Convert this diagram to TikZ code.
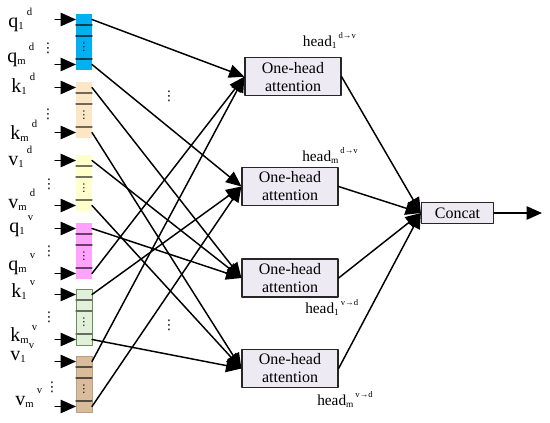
\documentclass[tikz,border=0pt]{standalone}
\usepackage{fontspec}
\setmainfont{Liberation Serif}
\newfontfamily\dotfont{DejaVu Sans}
\usepackage{tikz}
\usetikzlibrary{arrows.meta,positioning}
\definecolor{qdc}{HTML}{00B0F0}
\definecolor{kdc}{HTML}{FBE7C6}
\definecolor{vdc}{HTML}{FFFFCC}
\definecolor{qvc}{HTML}{FFA3FF}
\definecolor{kvc}{HTML}{E2F0D9}
\definecolor{vvc}{HTML}{D8BC9C}
\definecolor{boxfill}{HTML}{EDEAF3}
\newcommand{\vlab}[3]{#1\raisebox{-0.25ex}{\fontsize{8}{8}\selectfont #2}\hspace{2.5pt}\raisebox{1.2ex}{\fontsize{8}{8}\selectfont #3}}
\newcommand{\hlab}[2]{head\raisebox{-0.35ex}{\fontsize{7}{7}\selectfont #1}\hspace{1.5pt}\raisebox{1.1ex}{\fontsize{6.5}{6.5}\selectfont #2}}
\tikzset{
  cell/.style={rectangle, minimum width=12pt, minimum height=8.25pt, inner sep=0pt, outer sep=0pt},
  gapcell/.style={cell, minimum height=17.25pt, font=\dotfont\fontsize{8}{8}\selectfont},
  att/.style={rectangle, draw=black!85, fill=boxfill, line width=0.9pt, minimum width=72pt, minimum height=28.5pt, inner sep=1pt, align=center, font=\fontsize{12}{13.5}\selectfont},
  catbox/.style={att, minimum width=54pt, minimum height=15.75pt},
  lab/.style={anchor=base west, inner sep=0pt, font=\fontsize{15}{15}\selectfont},
  headlab/.style={anchor=base west, inner sep=0pt, font=\fontsize{11.5}{12}\selectfont},
  dots/.style={inner sep=0pt, font=\dotfont\fontsize{10}{10}\selectfont},
  link/.style={-{Triangle[length=11.5pt,width=10pt]}, line width=1.1pt},
  divline/.style={line width=1pt},
  every picture/.style={line cap=round, line join=round}
}

\begin{document}
\begin{tikzpicture}[x=0.75pt,y=-0.75pt]
  \useasboundingbox (0,0) rectangle (550,422);

  % Vector blocks
  \node[cell, fill=qdc] (qd1) at (84,19.5) {};
  \node[cell, fill=qdc] (qd2) at (84,30.5) {};
  \node[gapcell, fill=qdc] (qde) at (84,47.5) {⋮};
  \node[cell, fill=qdc] (qdm) at (84,64.5) {};

  \node[cell, fill=kdc] (kd1) at (84,87.5) {};
  \node[cell, fill=kdc] (kd2) at (84,98.5) {};
  \node[gapcell, fill=kdc] (kde) at (84,115.5) {⋮};
  \node[cell, fill=kdc] (kdm) at (84,132.5) {};

  \node[cell, fill=vdc] (vd1) at (84,160.5) {};
  \node[cell, fill=vdc] (vd2) at (84,171.5) {};
  \node[gapcell, fill=vdc] (vde) at (84,188.5) {⋮};
  \node[cell, fill=vdc] (vdm) at (84,205.5) {};

  \node[cell, fill=qvc] (qv1) at (84,228.5) {};
  \node[cell, fill=qvc] (qv2) at (84,239.5) {};
  \node[gapcell, fill=qvc] (qve) at (84,256.5) {⋮};
  \node[cell, fill=qvc] (qvm) at (84,273.5) {};

  \node[cell, fill=kvc] (kv1) at (84,294.5) {};
  \node[cell, fill=kvc] (kv2) at (84,305.5) {};
  \node[gapcell, fill=kvc] (kve) at (84,322.5) {⋮};
  \node[cell, fill=kvc] (kvm) at (84,339.5) {};

  \node[cell, fill=vvc] (vv1) at (84,361.5) {};
  \node[cell, fill=vvc] (vv2) at (84,372.5) {};
  \node[gapcell, fill=vvc] (vve) at (84,389.5) {⋮};
  \node[cell, fill=vvc] (vvm) at (84,406.5) {};

  % Frames and dividers
  \draw[line width=0.6pt, kvc!70!green!60!black] (kv1.north west) rectangle (kvm.south east);
  \draw[line width=0.6pt, vvc!85!black] (vv1.north west) rectangle (vvm.south east);
  \draw[divline, qdc!35!black] (qd1.south west) -- (qd1.south east) (qd2.south west) -- (qd2.south east) (qde.south west) -- (qde.south east);
  \draw[divline, kdc!45!black] (kd1.south west) -- (kd1.south east) (kd2.south west) -- (kd2.south east) (kde.south west) -- (kde.south east);
  \draw[divline, vdc!45!black] (vd1.south west) -- (vd1.south east) (vd2.south west) -- (vd2.south east) (vde.south west) -- (vde.south east);
  \draw[divline, qvc!40!black] (qv1.south west) -- (qv1.south east) (qv2.south west) -- (qv2.south east) (qve.south west) -- (qve.south east);
  \draw[divline, kvc!45!black] (kv1.south west) -- (kv1.south east) (kv2.south west) -- (kv2.south east) (kve.south west) -- (kve.south east);
  \draw[divline, vvc!40!black] (vv1.south west) -- (vv1.south east) (vv2.south west) -- (vv2.south east) (vve.south west) -- (vve.south east);

  % Input labels
  \node[lab] (lqd1) at (8,27) {\vlab{q}{1}{d}};
  \node[lab] (lqdm) at (7,62) {\vlab{q}{m}{d}};
  \node[lab] (lkd1) at (11,92) {\vlab{k}{1}{d}};
  \node[lab] (lkdm) at (10,139) {\vlab{k}{m}{d}};
  \node[lab] (lvd1) at (8,165) {\vlab{v}{1}{d}};
  \node[lab] (lvdm) at (8,208) {\vlab{v}{m}{d}};
  \node[lab] (lqv1) at (9,232) {\vlab{q}{1}{v}};
  \node[lab] (lqvm) at (8,270) {\vlab{q}{m}{v}};
  \node[lab] (lkv1) at (11,297) {\vlab{k}{1}{v}};
  \node[lab] (lkvm) at (10,341.5) {\vlab{k}{m}{v}};
  \node[lab] (lvv1) at (10,360) {\vlab{v}{1}{v}};
  \node[lab] (lvvm) at (15,405) {\vlab{v}{m}{v}};

  \node[dots] (dqd) at (48,48) {⋮};
  \node[dots] (dkd) at (48,114) {⋮};
  \node[dots] (dvd) at (49,184) {⋮};
  \node[dots] (dqv) at (49,251) {⋮};
  \node[dots] (dkv) at (49,317) {⋮};
  \node[dots] (dvv) at (52,387) {⋮};

  % Input arrows
  \coordinate (iqd1) at (55,19.5);
  \coordinate (iqdm) at (55,64.5);
  \coordinate (ikd1) at (55,87.5);
  \coordinate (ikdm) at (55,132.5);
  \coordinate (ivd1) at (55,160.5);
  \coordinate (ivdm) at (55,205.5);
  \coordinate (iqv1) at (55,228.5);
  \coordinate (iqvm) at (55,273.5);
  \coordinate (ikv1) at (55,294.5);
  \coordinate (ikvm) at (55,339.5);
  \coordinate (ivv1) at (55,361.5);
  \coordinate (ivvm) at (55,406.5);
  \draw[link] (iqd1) -- (qd1);
  \draw[link] (iqdm) -- (qdm);
  \draw[link] (ikd1) -- (kd1);
  \draw[link] (ikdm) -- (kdm);
  \draw[link] (ivd1) -- (vd1);
  \draw[link] (ivdm) -- (vdm);
  \draw[link] (iqv1) -- (qv1);
  \draw[link] (iqvm) -- (qvm);
  \draw[link] (ikv1) -- (kv1);
  \draw[link] (ikvm) -- (kvm);
  \draw[link] (ivv1) -- (vv1);
  \draw[link] (ivvm) -- (vvm);

  % Attention heads
  \node[att] (A1) at (293,76.7) {One-head\\attention};
  \node[att] (A2) at (290,186.5) {One-head\\attention};
  \node[att] (A3) at (290,278) {One-head\\attention};
  \node[att] (A4) at (290,368.5) {One-head\\attention};

  \node[headlab] (h1) at (302.7,46.5) {\hlab{1}{d→v}};
  \node[headlab] (h2) at (302,161.5) {\hlab{m}{d→v}};
  \node[headlab] (h3) at (305,313) {\hlab{1}{v→d}};
  \node[headlab] (h4) at (317,405) {\hlab{m}{v→d}};

  \node[dots] (dmid1) at (169,96) {⋮};
  \node[dots] (dmid2) at (169,325) {⋮};

  \draw[link] (qd1.east) -- (A1.west);
  \draw[link] (qvm.east) -- (A1.west);
  \draw[link] (vv1.east) -- (A1.west);

  \draw[link] (qdm.east) -- (A2.west);
  \draw[link] (kv1.east) -- (A2.west);
  \draw[link] (vvm.east) -- (A2.west);

  \draw[link] (kd1.east) -- (A3.west);
  \draw[link] (vd1.east) -- (A3.west);
  \draw[link] (qv1.east) -- (A3.west);

  \draw[link] (kdm.east) -- (A4.west);
  \draw[link] (vdm.east) -- (A4.west);
  \draw[link] (kvm.east) -- (A4.west);

  % Concat
  \node[catbox] (C) at (457.5,213) {Concat};
  \coordinate (out) at (542,213);
  \draw[link] (A1.east) -- (C.west);
  \draw[link] (A2.east) -- (C.west);
  \draw[link] (A3.east) -- (C.west);
  \draw[link] (A4.east) -- (C.west);
  \draw[link] (C.east) -- (out);
\end{tikzpicture}
\end{document}
